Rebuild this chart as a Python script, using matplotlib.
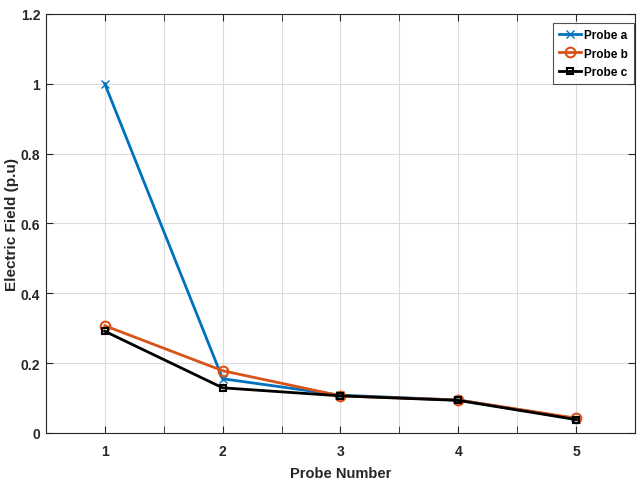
import matplotlib.pyplot as plt
from matplotlib.ticker import MultipleLocator

plt.rcParams['font.family'] = ['Liberation Sans', 'DejaVu Sans']

probes = [1, 2, 3, 4, 5]
probe_a = [1.0, 0.155, 0.108, 0.094, 0.040]
probe_b = [0.307, 0.178, 0.106, 0.094, 0.042]
probe_c = [0.291, 0.129, 0.106, 0.093, 0.038]
y_ticks = [0, 0.2, 0.4, 0.6, 0.8, 1.0, 1.2]
y_labels = ['0', '0.2', '0.4', '0.6', '0.8', '1', '1.2']

fig = plt.figure(figsize=(6.37, 4.81), dpi=100)
ax = fig.add_axes([0.072, 0.098, 0.925, 0.871])

ax.plot(probes, probe_a, color='#0072BD', marker='x', markersize=6, linewidth=2, label='Probe a')
ax.plot(probes, probe_b, color='#D95319', marker='o', markersize=7, markerfacecolor='none',
        markeredgewidth=1.5, linewidth=2, label='Probe b')
ax.plot(probes, probe_c, color='black', marker='s', markersize=5, markerfacecolor='none',
        markeredgewidth=1.5, linewidth=2, label='Probe c')

ax.set_xlim(0.5, 5.5)
ax.set_ylim(0, 1.2)
ax.set_xticks(probes)
ax.xaxis.set_minor_locator(MultipleLocator(0.5))
ax.set_yticks(y_ticks, y_labels)
ax.grid(True, which='major', color='#dcdcdc', linewidth=0.8)
ax.grid(True, which='minor', axis='x', color='#dcdcdc', linewidth=0.8)
ax.set_axisbelow(True)
ax.tick_params(which='both', direction='in', top=True, right=True, labelsize=10, colors='#262626')
ax.tick_params(which='both', length=5)
ax.tick_params(axis='x', pad=8)
ax.tick_params(axis='y', pad=4)
for lbl in ax.get_xticklabels() + ax.get_yticklabels():
    lbl.set_fontweight('bold')
for s in ax.spines.values():
    s.set_color('#262626')
    s.set_linewidth(0.8)

ax.set_xlabel('Probe Number', fontsize=10.5, fontweight='bold', color='#262626')
ax.set_ylabel('Electric Field (p.u)', fontsize=11, fontweight='bold', color='#262626')
ax.xaxis.set_label_coords(0.5, -0.078)
ax.yaxis.set_label_coords(-0.045, 0.5)

leg = ax.legend(loc='upper right', fontsize=8.5, fancybox=False, edgecolor='#262626',
                borderpad=0.5, handlelength=1.8, handletextpad=0.3, labelspacing=0.55,
                borderaxespad=0, bbox_to_anchor=(0.998, 0.978))
for t in leg.get_texts():
    t.set_fontweight('bold')
leg.get_frame().set_linewidth(0.8)

plt.savefig('out.png', dpi=100)
